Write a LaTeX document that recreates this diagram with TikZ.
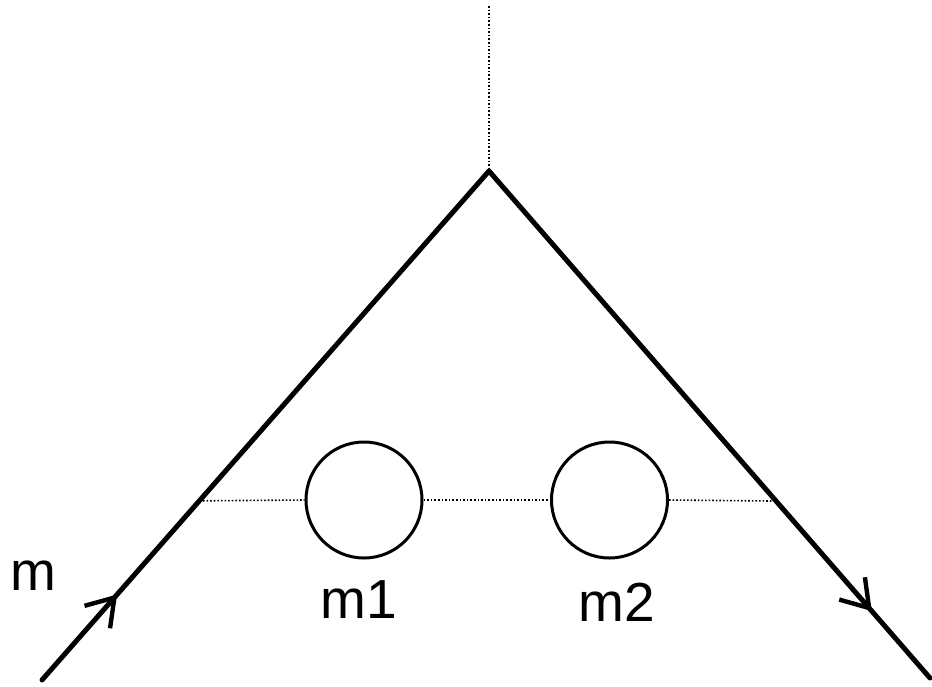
\documentclass[tikz,border=0pt]{standalone}
\usepackage{fontspec}
\setmainfont{Liberation Sans}
\usepackage{tikz}
\usetikzlibrary{positioning, arrows.meta, calc, decorations.markings}

\tikzset{
  leg/.style={line width=2.5pt, line cap=round, line join=miter},
  guide/.style={densely dotted, line width=0.8pt},
  mass/.style={circle, draw, line width=1.5pt, minimum size=58pt, inner sep=0pt},
  lbl/.style={font=\fontsize{27.5}{30}\selectfont, anchor=base, inner sep=0pt},
  barb/.style={decoration={markings, mark=at position #1 with
      {\arrow[line width=2.2pt]{Straight Barb[length=13pt, width=17pt]}}},
    postaction={decorate}}
}

\begin{document}
\begin{tikzpicture}[x=0.5pt, y=-0.5pt]

  %% Frame (pixel coordinates, y downwards)
  \useasboundingbox (0,0) rectangle (932,686);

  %% Key points
  \coordinate (apex)     at (489,171);
  \coordinate (leftEnd)  at (42,680);
  \coordinate (rightEnd) at (930,678);
  \coordinate (axisTop)  at (489,6);

  % where the horizontal guide meets the legs
  \coordinate (leftCut)  at ($(leftEnd)!0.352!(apex)$);
  \coordinate (rightCut) at ($(apex)!0.651!(rightEnd)$);

  %% Masses
  \node[mass] (massOne) at (364,500) {};
  \node[mass] (massTwo) at (609.5,500) {};

  %% Guides
  \draw[guide] (axisTop) -- (apex);
  \draw[guide] (leftCut) -- (massOne.west);
  \draw[guide] (massOne.east) -- (massTwo.west);
  \draw[guide] (massTwo.east) -- (rightCut);

  %% Legs with direction marks
  \draw[leg, barb=0.168] (leftEnd) -- (apex);
  \draw[leg, barb=0.868] (apex) -- (rightEnd);

  %% Labels
  \node[lbl] (lblM)    at (33,590)  {m};
  \node[lbl] (lblMOne) at (359,618) {m1};
  \node[lbl] (lblMTwo) at (617,621) {m2};

\end{tikzpicture}
\end{document}
